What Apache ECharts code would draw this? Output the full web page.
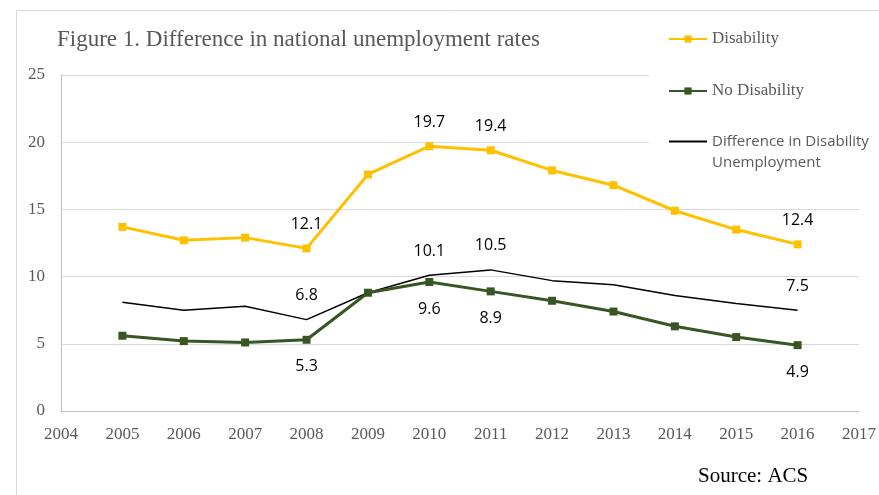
<!DOCTYPE html>
<html>
<head>
<meta charset="utf-8">
<script src="https://cdn.jsdelivr.net/npm/echarts@6/dist/echarts.min.js"></script>
<style>
html,body{margin:0;padding:0;background:#fff;}
#chart{width:879px;height:495px;}
</style>
</head>
<body>
<div id="chart"></div>
<script>
const years = [2005, 2006, 2007, 2008, 2009, 2010, 2011, 2012, 2013, 2014, 2015, 2016];
const disability = [13.7, 12.7, 12.9, 12.1, 17.6, 19.7, 19.4, 17.9, 16.8, 14.9, 13.5, 12.4];
const noDisability = [5.6, 5.2, 5.1, 5.3, 8.8, 9.6, 8.9, 8.2, 7.4, 6.3, 5.5, 4.9];
const difference = [8.1, 7.5, 7.8, 6.8, 8.8, 10.1, 10.5, 9.7, 9.4, 8.6, 8.0, 7.5];
const labeledYears = [2008, 2010, 2011, 2016];
const yTicks = [0, 5, 10, 15, 20, 25];
const xTickMin = 2004, xTickMax = 2017;

const SERIF = '"Liberation Serif", "Times New Roman", serif';
const SANS = '"Open Sans", "Noto Sans", sans-serif';

function build(values, offsetY) {
  return years.map((yr, i) => {
    const show = labeledYears.indexOf(yr) >= 0;
    return {
      value: [yr, values[i]],
      label: {
        show: show,
        position: 'inside',
        offset: [0, offsetY],
        formatter: values[i].toFixed(1),
        fontFamily: SANS,
        fontSize: 16,
        color: '#000'
      }
    };
  });
}

const chart = echarts.init(document.getElementById('chart'), null, {renderer: 'canvas'});
const option = {
  animation: false,
  backgroundColor: '#fff',
  title: {
    text: 'Figure 1. Difference in national unemployment rates',
    left: 57,
    top: 27,
    padding: 0,
    textStyle: {fontFamily: SERIF, fontSize: 23, fontWeight: 'normal', color: '#595959', lineHeight: 26}
  },
  graphic: [
    {type: 'rect', z: 0, shape: {x: 16.5, y: 10.5, width: 900, height: 600}, style: {fill: 'none', stroke: '#D9D9D9', lineWidth: 1}},
    {type: 'rect', z: 3, shape: {x: 649, y: 16, width: 240, height: 164}, style: {fill: '#fff'}},
    {type: 'text', z: 5, x: 698, y: 476, style: {text: 'Source: ACS', font: '21px ' + SERIF, fill: '#000', verticalAlign: 'middle', align: 'left'}}
  ],
  legend: [
    {
      left: 668, top: 29, padding: 0, itemWidth: 38, itemHeight: 9, z: 5,
      data: [{name: 'Disability'}],
      textStyle: {fontFamily: SERIF, fontSize: 17, color: '#595959', lineHeight: 20}
    },
    {
      left: 668, top: 81, padding: 0, itemWidth: 38, itemHeight: 9, z: 5,
      data: [{name: 'No Disability'}],
      textStyle: {fontFamily: SERIF, fontSize: 17, color: '#595959', lineHeight: 20}
    },
    {
      left: 668, top: 110, padding: 0, itemWidth: 38, itemHeight: 9, z: 5,
      data: [{name: 'Difference in Disability\nUnemployment', itemStyle: {color: 'rgba(0,0,0,0)', borderWidth: 0, opacity: 0}}],
      formatter: name => '\n' + name,
      textStyle: {fontFamily: SANS, fontSize: 15, color: '#595959', lineHeight: 21}
    }
  ],
  grid: {left: 61, right: 20, top: 75, bottom: 84, containLabel: false},
  xAxis: {
    type: 'value',
    min: xTickMin, max: xTickMax, interval: 1,
    axisLine: {show: true, lineStyle: {color: '#BFBFBF', width: 1}},
    axisTick: {show: false},
    splitLine: {show: false},
    axisLabel: {fontFamily: SERIF, fontSize: 17, color: '#595959', margin: 15, formatter: v => String(v)}
  },
  yAxis: {
    type: 'value',
    min: yTicks[0], max: yTicks[yTicks.length - 1], interval: 5,
    axisLine: {show: true, lineStyle: {color: '#BFBFBF', width: 1}},
    axisTick: {show: false},
    splitLine: {show: true, lineStyle: {color: '#D9D9D9', width: 1}},
    axisLabel: {fontFamily: SERIF, fontSize: 17, color: '#595959', margin: 16}
  },
  series: [
    {
      name: 'Disability', type: 'line', data: build(disability, -24),
      symbol: 'rect', symbolSize: 8, z: 3,
      lineStyle: {color: '#FFC000', width: 3}, itemStyle: {color: '#FFC000'}
    },
    {
      name: 'No Disability', type: 'line', data: build(noDisability, 27),
      symbol: 'rect', symbolSize: 8, z: 3,
      lineStyle: {color: '#375623', width: 3}, itemStyle: {color: '#375623'}
    },
    {
      name: 'Difference in Disability\nUnemployment', type: 'line', data: build(difference, -24),
      symbol: 'circle', symbolSize: 0, z: 2,
      lineStyle: {color: '#000', width: 1.5}, itemStyle: {color: '#000'}
    }
  ]
};
chart.setOption(option);
</script>
</body>
</html>
